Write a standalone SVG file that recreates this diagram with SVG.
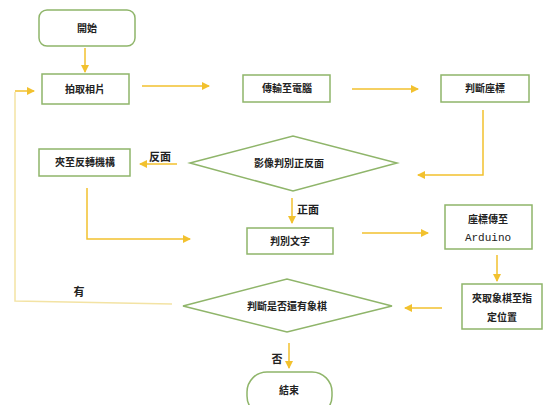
<svg xmlns="http://www.w3.org/2000/svg" width="543" height="405" viewBox="0 0 543 405">
<defs>
<marker id="ah" markerWidth="8" markerHeight="8" refX="7" refY="4" orient="auto" markerUnits="userSpaceOnUse">
<path d="M0,0 L8,4 L0,8 Z" fill="#f2c12e"/>
</marker>
<style>
.box{fill:#ffffff;stroke:#8fb56a;stroke-width:1.5}
.t{font-family:"Noto Sans CJK TC","Noto Sans CJK SC",sans-serif;font-size:10px;font-weight:bold;fill:#222;text-anchor:middle}
.lbl{font-family:"Noto Sans CJK TC","Noto Sans CJK SC",sans-serif;font-size:11px;font-weight:bold;fill:#222;text-anchor:middle}
.m{font-family:"Liberation Mono",monospace;font-size:11px;fill:#222;text-anchor:middle}
.c{fill:none;stroke:#f2c12e;stroke-width:1.5}
.cl{fill:none;stroke:#f3e3a4;stroke-width:1.5}
</style>
</defs>
<rect width="543" height="405" fill="#ffffff"/>
<g id="connectors">
<line class="c" x1="85" y1="48" x2="85" y2="72" marker-end="url(#ah)"/>
<line class="c" x1="142" y1="86" x2="209" y2="86" marker-end="url(#ah)"/>
<line class="c" x1="352" y1="89" x2="418" y2="89" marker-end="url(#ah)"/>
<polyline class="c" points="483,110 483,175 418,175" marker-end="url(#ah)"/>
<line class="c" x1="177" y1="164" x2="140" y2="164" marker-end="url(#ah)"/>
<polyline class="c" points="87,188 87,239 190,239" marker-end="url(#ah)"/>
<line class="c" x1="292" y1="198" x2="292" y2="223" marker-end="url(#ah)"/>
<line class="c" x1="362" y1="233" x2="428" y2="233" marker-end="url(#ah)"/>
<line class="c" x1="497" y1="255" x2="497" y2="281" marker-end="url(#ah)"/>
<line class="c" x1="442" y1="308" x2="405" y2="308" marker-end="url(#ah)"/>
<polyline class="cl" points="172,304 15,301 15,92"/>
<line class="c" x1="15" y1="91" x2="34" y2="91" marker-end="url(#ah)"/>
<line class="c" x1="289" y1="343" x2="289" y2="368" marker-end="url(#ah)"/>
<text class="lbl" x="160" y="161">反面</text>
<text class="lbl" x="308" y="214">正面</text>
<text class="lbl" x="79" y="296">有</text>
<text class="lbl" x="277" y="363">否</text>
</g>
<g id="start">
<rect class="box" x="39" y="10" width="96" height="36" rx="8"/>
<text class="t" x="87" y="32">開始</text>
</g>
<g id="capture">
<rect class="box" x="42" y="74" width="87" height="30"/>
<text class="t" x="85" y="93">拍取相片</text>
</g>
<g id="transfer">
<rect class="box" x="243" y="75" width="87" height="27"/>
<text class="t" x="287" y="92">傳輸至電腦</text>
</g>
<g id="coord">
<rect class="box" x="441" y="75" width="88" height="27"/>
<text class="t" x="485" y="92">判斷座標</text>
</g>
<g id="side">
<polygon class="box" points="190,163 293,136 397,163 293,191"/>
<text class="t" x="289" y="167">影像判別正反面</text>
</g>
<g id="flip">
<rect class="box" x="39" y="149" width="91" height="27"/>
<text class="t" x="85" y="166">夾至反轉機構</text>
</g>
<g id="text">
<rect class="box" x="247" y="228" width="86" height="26"/>
<text class="t" x="290" y="245">判別文字</text>
</g>
<g id="arduino">
<rect class="box" x="445" y="205" width="87" height="44"/>
<text class="t" x="488" y="223">座標傳至</text>
<text class="m" x="488" y="241">Arduino</text>
</g>
<g id="place">
<rect class="box" x="462" y="284" width="80" height="45"/>
<text class="t" x="502" y="302">夾取象棋至指</text>
<text class="t" x="502" y="321">定位置</text>
</g>
<g id="more">
<polygon class="box" points="183,306 287,279 392,306 287,332"/>
<text class="t" x="287" y="310">判斷是否還有象棋</text>
</g>
<g id="end">
<rect class="box" x="247" y="372" width="85" height="44" rx="20"/>
<text class="t" x="289" y="394">結束</text>
</g>
</svg>
